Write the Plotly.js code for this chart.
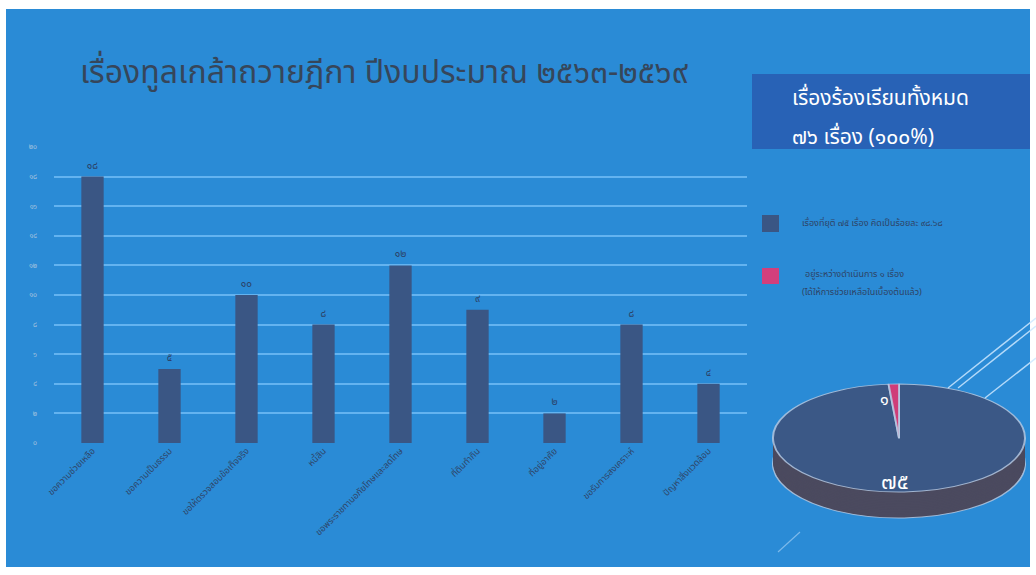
<!DOCTYPE html>
<html>
<head>
<meta charset="utf-8">
<script src="https://cdn.plot.ly/plotly-3.0.1.min.js"></script>
<style>
  html, body { margin:0; padding:0; background:#ffffff; width:1036px; height:575px; overflow:hidden; }
  #pie { position:absolute; left:6px; top:9px; transform-origin:0 0; }
  #chart { position:absolute; left:0; top:0; width:1036px; height:575px; }
</style>
</head>
<body>
<div id="pie"></div>
<div id="chart"></div>
<script>
// ---------------- data ----------------
const categories = [
  'ขอความช่วยเหลือ',
  'ขอความเป็นธรรม',
  'ขอให้ตรวจสอบข้อเท็จจริง',
  'หนี้สิน',
  'ขอพระราชทานอภัยโทษและลดโทษ',
  'ที่ดินทำกิน',
  'ที่อยู่อาศัย',
  'ขอรับการสงเคราะห์',
  'ปัญหาสิ่งแวดล้อม'
];
const counts = [18, 5, 10, 8, 12, 9, 2, 8, 4];
const yTickVals = [0, 2, 4, 6, 8, 10, 12, 14, 16, 18, 20];
const pieNames = ['เรื่องที่ยุติ', 'อยู่ระหว่างดำเนินการ'];
const pieValues = [75, 1];
const titleText = 'เรื่องทูลเกล้าถวายฎีกา ปีงบประมาณ ๒๕๖๓-๒๕๖๙';

// ---------------- helpers ----------------
const TH = '๐๑๒๓๔๕๖๗๘๙';
const thai = s => String(s).replace(/[0-9]/g, d => TH[+d]);
const FONT = '"Noto Sans Thai", "Noto Sans Thai UI", Loma, Garuda, "Tlwg Typo", "Noto Sans", sans-serif';

const W = 1036, H = 575;
const PL = 54, PR = 747, PT = 147, PB = 443;         // plot area in pixels
const px = x => (x - PL) / (PR - PL);                 // pixel -> paper x
const py = y => (PB - y) / (PB - PT);                 // pixel -> paper y

const total = counts.reduce((a, b) => a + b, 0);
const done = pieValues[0], pending = pieValues[1];
const pct = (100 * done / total).toFixed(2);

// ---------------- main chart ----------------
const bar = {
  type: 'bar',
  x: categories,
  y: counts,
  text: counts.map(thai),
  textposition: 'outside',
  cliponaxis: false,
  textfont: { family: FONT, size: 10, color: '#2a4268' },
  marker: { color: '#3a5684' },
  showlegend: false,
  hoverinfo: 'x+y'
};

const deco = 'rgba(205,232,255,0.85)';
const shapes = [
  // total box
  { type: 'rect', xref: 'paper', yref: 'paper', x0: px(752), x1: px(1030), y0: py(149), y1: py(74),
    fillcolor: '#2862b6', line: { width: 0 }, layer: 'below' },
  // legend swatches
  { type: 'rect', xref: 'paper', yref: 'paper', x0: px(762), x1: px(779), y0: py(232), y1: py(215),
    fillcolor: '#3a5684', line: { width: 0 } },
  { type: 'rect', xref: 'paper', yref: 'paper', x0: px(762), x1: px(779), y0: py(284), y1: py(268),
    fillcolor: '#d23f7c', line: { width: 0 } },
  // decorative slide lines (ending at the pie rim)
  { type: 'line', xref: 'paper', yref: 'paper', x0: px(948), y0: py(388), x1: px(1036), y1: py(318),
    line: { color: deco, width: 1.5 } },
  { type: 'line', xref: 'paper', yref: 'paper', x0: px(958), y0: py(388), x1: px(1036), y1: py(326),
    line: { color: deco, width: 1.5 } },
  { type: 'line', xref: 'paper', yref: 'paper', x0: px(985), y0: py(398), x1: px(1036), y1: py(358),
    line: { color: deco, width: 1.5 } },
  { type: 'line', xref: 'paper', yref: 'paper', x0: px(778), y0: py(552), x1: px(800), y1: py(532),
    line: { color: 'rgba(205,232,255,0.5)', width: 1.2 } }
];

const annotations = [
  { xref: 'paper', yref: 'paper', x: px(790), y: py(98), xanchor: 'left', yanchor: 'middle', showarrow: false,
    text: 'เรื่องร้องเรียนทั้งหมด', font: { family: FONT, size: 21, color: '#ffffff' } },
  { xref: 'paper', yref: 'paper', x: px(790), y: py(137), xanchor: 'left', yanchor: 'middle', showarrow: false,
    text: thai(total) + ' เรื่อง (' + thai(100) + '%)', font: { family: FONT, size: 21, color: '#ffffff' } },
  { xref: 'paper', yref: 'paper', x: px(800), y: py(223), xanchor: 'left', yanchor: 'middle', showarrow: false,
    text: pieNames[0] + ' ' + thai(done) + ' เรื่อง คิดเป็นร้อยละ ' + thai(pct),
    font: { family: FONT, size: 9, color: '#2e4466' } },
  { xref: 'paper', yref: 'paper', x: px(803), y: py(274), xanchor: 'left', yanchor: 'middle', showarrow: false,
    text: pieNames[1] + ' ' + thai(pending) + ' เรื่อง',
    font: { family: FONT, size: 9, color: '#2e4466' } },
  { xref: 'paper', yref: 'paper', x: px(800), y: py(292), xanchor: 'left', yanchor: 'middle', showarrow: false,
    text: '(ได้ให้การช่วยเหลือในเบื้องต้นแล้ว)',
    font: { family: FONT, size: 9, color: '#2e4466' } },
  // pie value labels
  { xref: 'paper', yref: 'paper', x: px(884), y: py(400), xanchor: 'center', yanchor: 'middle', showarrow: false,
    text: thai(pending), font: { family: FONT, size: 16, color: '#ffffff' } },
  { xref: 'paper', yref: 'paper', x: px(895), y: py(482), xanchor: 'center', yanchor: 'middle', showarrow: false,
    text: thai(done), font: { family: FONT, size: 22, color: '#ffffff' } }
];

const layout = {
  width: W, height: H,
  margin: { l: PL, r: W - PR, t: PT, b: H - PB, pad: 0 },
  paper_bgcolor: 'rgba(0,0,0,0)',
  plot_bgcolor: 'rgba(0,0,0,0)',
  bargap: 0.71,
  title: {
    text: titleText,
    xref: 'container', yref: 'container',
    x: 80 / W, xanchor: 'left',
    y: 1 - 72 / H, yanchor: 'middle',
    font: { family: FONT, size: 32, color: '#36465a' }
  },
  xaxis: {
    type: 'category',
    tickangle: -45,
    tickfont: { family: FONT, size: 9, color: '#2f4568' },
    showgrid: false, zeroline: false, showline: false, ticks: '',
    automargin: false
  },
  yaxis: {
    range: [0, 20],
    tickvals: yTickVals,
    ticktext: yTickVals.map(thai),
    tickfont: { family: FONT, size: 7, color: '#a4c2de' },
    ticklabelstandoff: 16,
    showgrid: true, gridcolor: '#63b3f0', gridwidth: 2,
    zeroline: false, showline: false, ticks: '',
    automargin: false
  },
  shapes, annotations,
  font: { family: FONT },
  showlegend: false
};

Plotly.newPlot('chart', [bar], layout, { displayModeBar: false, staticPlot: true });

// ---------------- pie (tilted, drawn on the background layer) ----------------
const BW = 1024, BH = 558;          // visible blue area
const A = 126, B = 54, DEPTH = 26;  // ellipse half-axes and side depth (px)
const S = B / A;                    // vertical squash
const PH = BH / S;                  // pre-scale height
const CX = 899 - 6, CY = 438 - 9;   // centre in the blue area
const dom = (cy) => ({
  x: [(CX - A) / BW, (CX + A) / BW],
  y: [1 - (cy / S + A) / PH, 1 - (cy / S - A) / PH]
});

const pieTraces = [];
const STEPS = 16;
for (let k = STEPS; k >= 1; k--) {
  const off = DEPTH * k / STEPS;
  pieTraces.push({
    type: 'pie', values: pieValues, labels: pieNames, sort: false, direction: 'clockwise', rotation: 0,
    textinfo: 'none', hoverinfo: 'skip', showlegend: false,
    marker: { colors: ['#4b4a5f', '#7a2d52'],
      line: { width: k === STEPS ? 2 : 0, color: 'rgba(185,205,230,0.8)' } },
    domain: dom(CY + off)
  });
}
pieTraces.push({
  type: 'pie', values: pieValues, labels: pieNames, sort: false, direction: 'clockwise', rotation: 0,
  textinfo: 'none', hoverinfo: 'label+value', showlegend: false,
  marker: { colors: ['#3b5886', '#cf3d78'], line: { width: 2, color: 'rgba(185,205,230,0.8)' } },
  domain: dom(CY)
});

document.getElementById('pie').style.transform = 'scaleY(' + S + ')';
Plotly.newPlot('pie', pieTraces, {
  width: BW, height: PH,
  margin: { l: 0, r: 0, t: 0, b: 0 },
  paper_bgcolor: '#2a8bd6',
  showlegend: false
}, { displayModeBar: false, staticPlot: true });
</script>
</body>
</html>
